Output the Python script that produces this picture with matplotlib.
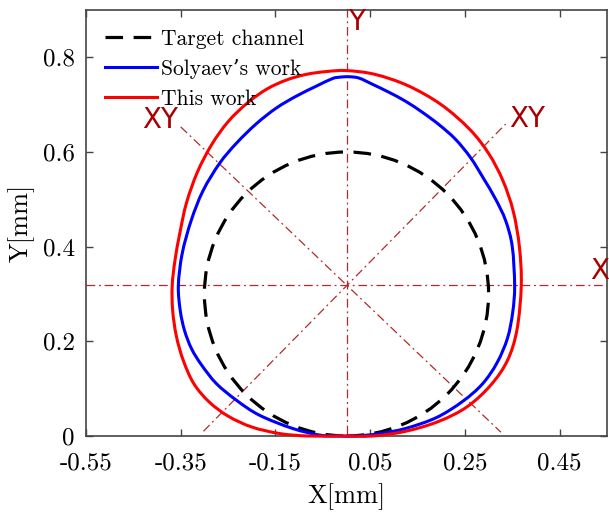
import numpy as np
import matplotlib
matplotlib.use("Agg")
import matplotlib.pyplot as plt
from matplotlib.path import Path
from matplotlib.patches import PathPatch, Circle
from matplotlib.lines import Line2D

# ---------------- data ----------------
target_center = (0.0, 0.30)
target_radius = 0.30

# "This work" contour, read counter-clockwise from the bottom
this_x = [-0.010, 0.055, 0.125, 0.195, 0.255, 0.305, 0.340, 0.360, 0.369, 0.365,
          0.352, 0.330, 0.300, 0.260, 0.200, 0.130, 0.060, 0.000, -0.042, -0.085,
          -0.127, -0.168, -0.210, -0.250, -0.285, -0.315, -0.338, -0.352, -0.362,
          -0.368, -0.367, -0.359, -0.344, -0.322, -0.290, -0.250, -0.200, -0.140,
          -0.080]
this_y = [0.000, 0.000, 0.010, 0.031, 0.062, 0.108, 0.160, 0.225, 0.318, 0.400,
          0.475, 0.540, 0.597, 0.648, 0.700, 0.740, 0.764, 0.772, 0.770, 0.764,
          0.752, 0.733, 0.703, 0.664, 0.615, 0.557, 0.492, 0.428, 0.372,
          0.318, 0.265, 0.210, 0.158, 0.110, 0.072, 0.042, 0.019, 0.005,
          0.000]

# "Solyaev's work" contour
solyaev_x = [0.020, 0.069, 0.125, 0.190, 0.245, 0.287, 0.318, 0.340, 0.351, 0.355,
             0.350, 0.336, 0.315, 0.290, 0.262, 0.230, 0.195, 0.160, 0.125, 0.090,
             0.055, 0.027, 0.005, -0.015, -0.030, -0.064, -0.106, -0.148, -0.190,
             -0.232, -0.268, -0.303, -0.328, -0.347, -0.355, -0.351, -0.342, -0.327,
             -0.306, -0.275, -0.233, -0.184, -0.114, -0.057, -0.020]
solyaev_y = [0.000, 0.005, 0.016, 0.039, 0.073, 0.110, 0.155, 0.207, 0.262, 0.318,
             0.400, 0.455, 0.500, 0.543, 0.588, 0.627, 0.658, 0.684, 0.707, 0.726,
             0.743, 0.756, 0.759, 0.758, 0.755, 0.739, 0.718, 0.693, 0.660,
             0.619, 0.576, 0.518, 0.455, 0.385, 0.318, 0.265, 0.223, 0.184,
             0.150, 0.111, 0.076, 0.044, 0.016, 0.002, 0.000]

# guide lines (annotation axes through the channel centre)
guide_center = (0.0, 0.318)
diag1_x = [-0.350, 0.326]
diag1_y = [0.653, 0.008]
diag2_x = [-0.302, 0.336]
diag2_y = [0.010, 0.659]

x_ticks = [-0.55, -0.35, -0.15, 0.05, 0.25, 0.45]
x_tick_labels = ["-0.55", "-0.35", "-0.15", "0.05", "0.25", "0.45"]
y_ticks = [0, 0.2, 0.4, 0.6, 0.8]
y_tick_labels = ["0", "0.2", "0.4", "0.6", "0.8"]

series_labels = ["Target channel", "Solyaev\u2019s work", "This work"]


def smooth_closed_path(xs, ys):
    """Closed Catmull-Rom curve through the given points, as cubic Bezier path."""
    P = np.column_stack([xs, ys])
    n = len(P)
    verts = [P[0]]
    codes = [Path.MOVETO]
    for i in range(n):
        p0, p1, p2, p3 = P[(i - 1) % n], P[i], P[(i + 1) % n], P[(i + 2) % n]
        c1 = p1 + (p2 - p0) / 6.0
        c2 = p2 - (p3 - p1) / 6.0
        verts += [c1, c2, p2]
        codes += [Path.CURVE4] * 3
    return Path(np.array(verts), codes)


# ---------------- figure ----------------
serif = ["cmr10", "DejaVu Serif"]
sans = ["DejaVu Sans"]
guide_col = "#b22a2a"
label_col = "#a80000"

fig = plt.figure(figsize=(6.09, 5.14), dpi=100)
ax = fig.add_axes([86/609, 78/514, 521/609, 426/514])

# guides
gls = (0, (7, 3, 1.5, 3))
ax.plot([-0.55, 0.55], [guide_center[1]]*2, color=guide_col, lw=0.9, ls=gls, zorder=1)
ax.plot([guide_center[0]]*2, [0.005, 0.905], color=guide_col, lw=0.9, ls=gls, zorder=1, clip_on=False)
ax.plot(diag1_x, diag1_y, color=guide_col, lw=0.9, ls=gls, zorder=1)
ax.plot(diag2_x, diag2_y, color=guide_col, lw=0.9, ls=gls, zorder=1)

dash = (0, (5.5, 3.3))
ax.add_patch(Circle(target_center, target_radius, fill=False, edgecolor="black",
                    lw=2.3, ls=dash, zorder=3))
ax.add_patch(PathPatch(smooth_closed_path(solyaev_x, solyaev_y), fill=False,
                       edgecolor="#0000ff", lw=2.2, zorder=4, clip_on=False))
ax.add_patch(PathPatch(smooth_closed_path(this_x, this_y), fill=False,
                       edgecolor="#ff0000", lw=2.2, zorder=5, clip_on=False))

ax.set_xlim(-0.55, 0.55)
ax.set_ylim(0, 0.9)
ax.set_xticks(x_ticks)
ax.set_xticklabels(x_tick_labels, family=serif, fontsize=18)
ax.set_yticks(y_ticks)
ax.set_yticklabels(y_tick_labels, family=serif, fontsize=18)
ax.tick_params(axis="both", direction="in", top=True, right=True, length=5, width=1,
               color="#444444")
ax.tick_params(axis="x", pad=12)
ax.tick_params(axis="y", pad=8)
for s in ax.spines.values():
    s.set_color("#444444")
    s.set_linewidth(1.2)

ax.set_xlabel("X[mm]", family=serif, fontsize=19, labelpad=6)
ax.set_ylabel("Y[mm]", family=serif, fontsize=19, labelpad=6)

handles = [
    Line2D([], [], color="black", lw=2.3, ls=dash),
    Line2D([], [], color="#0000ff", lw=2.2),
    Line2D([], [], color="#ff0000", lw=2.2),
]
ax.legend(handles=handles, labels=series_labels, loc="upper left",
          bbox_to_anchor=(0.012, 0.985),
          frameon=False, prop={"family": serif, "size": 15.5},
          handlelength=2.4, handletextpad=0.2, labelspacing=0.47,
          borderaxespad=0.3, borderpad=0.3)

# axis annotation labels
ax.text(0.004, 0.846, "Y", color=label_col, family=sans, fontsize=20, ha="left", va="bottom")
ax.text(-0.355, 0.638, "XY", color=label_col, family=sans, fontsize=20, ha="right", va="bottom")
ax.text(0.343, 0.64, "XY", color=label_col, family=sans, fontsize=20, ha="left", va="bottom")
ax.text(0.515, 0.32, "X", color=label_col, family=sans, fontsize=20, ha="left", va="bottom",
        clip_on=False)

fig.savefig("out.png", dpi=100)
